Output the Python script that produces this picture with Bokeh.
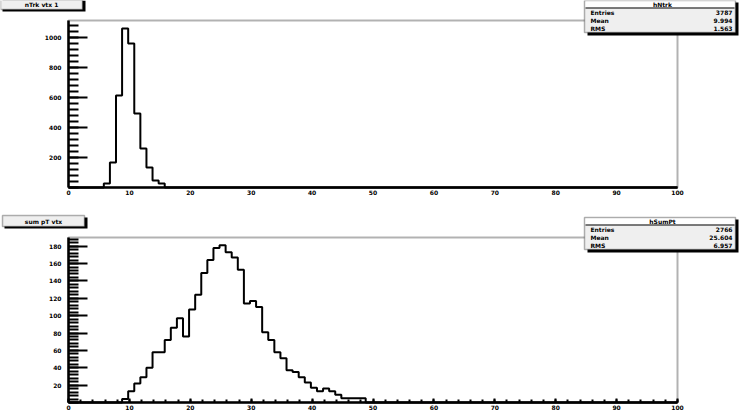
import numpy as np
from bokeh.plotting import figure
from bokeh.layouts import column
from bokeh.models import Range1d, FixedTicker, BoxAnnotation, Label, LinearAxis
from bokeh.embed import file_html
from bokeh.resources import INLINE

# ---------------- data ----------------
x_ticks = [0, 10, 20, 30, 40, 50, 60, 70, 80, 90, 100]

top_title = "nTrk vtx 1"
top_name = "hNtrk"
top_first_edge = 5.8
top_counts = [27, 167, 613, 1060, 960, 493, 260, 133, 47, 27]
top_y_ticks = [200, 400, 600, 800, 1000]

bot_title = "sum pT vtx"
bot_name = "hSumPt"
bot_first_edge = 8.8
bot_counts = [4, 13, 22, 29, 40, 58, 58, 72, 86, 97,
              76, 107, 124, 149, 164, 178, 181, 173, 167, 153,
              114, 117, 110, 81, 72, 58, 51, 37, 35, 29,
              23, 17, 13, 16, 13, 9, 5, 5, 5, 5]
bot_y_ticks = [20, 40, 60, 80, 100, 120, 140, 160, 180]

FONT = "DejaVu Sans"
GREY = "#efefef"
W = 742
L, R = 68, 677  # frame left/right in page pixels


def stats(counts, first):
    c = np.array(counts, float)
    centers = first + 0.5 + np.arange(len(c))
    n = c.sum()
    mean = (c * centers).sum() / n
    rms = np.sqrt((c * (centers - mean) ** 2).sum() / n)
    return int(n), mean, rms


def make_panel(counts, first, ymax, yticks, yminor, title, name,
               H, y_off, T, B, xtick_in, xminor_in):
    ppx = (R - L) / 100.0
    ppy = (B - T) / ymax
    x0 = -L / ppx
    x1 = 100 + (W - R) / ppx
    y0 = -(y_off + H - B) / ppy
    y1 = ymax + (T - y_off) / ppy
    p = figure(width=W, height=H, output_backend="svg", toolbar_location=None,
               x_range=Range1d(x0, x1), y_range=Range1d(y0, y1),
               x_axis_type=None, y_axis_type=None, min_border=0)
    p.grid.visible = False
    p.outline_line_color = None
    p.background_fill_color = "white"
    p.border_fill_color = "white"

    # frame
    p.add_layout(BoxAnnotation(left=0, right=100, bottom=0, top=ymax,
                               fill_alpha=0, line_color="black", line_width=2,
                               level="annotation"))

    edges = [0.0] + [first + i for i in range(len(counts) + 1)] + [100.0]
    vals = [0] + list(counts) + [0, 0]
    p.step(x=edges, y=vals, mode="after", line_color="black", line_width=2)

    xa = LinearAxis(fixed_location=0, bounds=(0, 100),
                    ticker=FixedTicker(ticks=x_ticks, minor_ticks=list(np.arange(0, 101, 2))))
    ya = LinearAxis(fixed_location=0, bounds=(0, ymax),
                    ticker=FixedTicker(ticks=yticks, minor_ticks=list(np.arange(0, ymax, yminor))))
    for ax in (xa, ya):
        ax.axis_line_width = 2.5
        ax.axis_line_color = "black"
        ax.major_tick_out = 0
        ax.minor_tick_out = 0
        ax.major_tick_line_width = 2
        ax.minor_tick_line_width = 2
        ax.major_label_text_font = FONT
        ax.major_label_text_font_size = "6px"
        ax.major_label_text_font_style = "bold"
        ax.major_label_text_color = "black"
    ya.major_tick_in = 19
    ya.minor_tick_in = 10
    ya.major_label_standoff = 7
    xa.major_tick_in = xtick_in
    xa.minor_tick_in = xminor_in
    xa.major_label_standoff = 2
    p.add_layout(xa, "below")
    p.add_layout(ya, "left")

    top_canvas = y_off + H

    def box(bx0, by0, bx1, by1, fill, line=None, lw=0):
        p.add_layout(BoxAnnotation(left=bx0, right=bx1, top=top_canvas - by0, bottom=top_canvas - by1,
                                   left_units="screen", right_units="screen",
                                   top_units="screen", bottom_units="screen",
                                   fill_color=fill, fill_alpha=1.0,
                                   line_color=line, line_width=lw, level="overlay"))

    def txt(tx, ty, s, align="left"):
        p.add_layout(Label(x=tx, y=top_canvas - ty, x_units="screen", y_units="screen",
                           text=s, text_align=align, text_baseline="middle",
                           text_font=FONT, text_font_size="6px", text_font_style="bold",
                           text_color="black", level="overlay"))

    # title box (top-left)
    t0 = T - 22
    tl = 0 if y_off == 0 else 2
    box(tl + 2, t0 + 2, tl + 85, t0 + 13, "black")
    box(tl, t0, tl + 82, t0 + 11, GREY, "black", 1.5)
    txt(tl + 41, t0 + 5.5, title, "center")

    # statistics box (top-right)
    s0 = T - 20
    n, mean, rms = stats(counts, first)
    box(587, s0 + 2, 738, s0 + 35, "black")
    box(584, s0, 735, s0 + 32, GREY, "black", 1.5)
    box(585, s0 + 1, 734, s0 + 7, "white")
    box(585, s0 + 7, 734, s0 + 8, "black")
    txt(662, s0 + 4, name, "center")
    rows = [("Entries", f"{n}"), ("Mean", f"{mean:.3f}"), ("RMS", f"{rms:.3f}")]
    for i, (k, v) in enumerate(rows):
        yy = s0 + 12 + 8 * i
        txt(590, yy, k, "left")
        txt(732, yy, v, "right")
    return p


p1 = make_panel(top_counts, top_first_edge, 1113, top_y_ticks, 40, top_title, top_name,
                H=208, y_off=0, T=20, B=187, xtick_in=0, xminor_in=0)
p2 = make_panel(bot_counts, bot_first_edge, 190, bot_y_ticks, 4, bot_title, bot_name,
                H=207, y_off=208, T=237, B=402, xtick_in=4, xminor_in=3)

layout = column(p1, p2, spacing=0)
open("out.html", "w").write(file_html(layout, INLINE))
